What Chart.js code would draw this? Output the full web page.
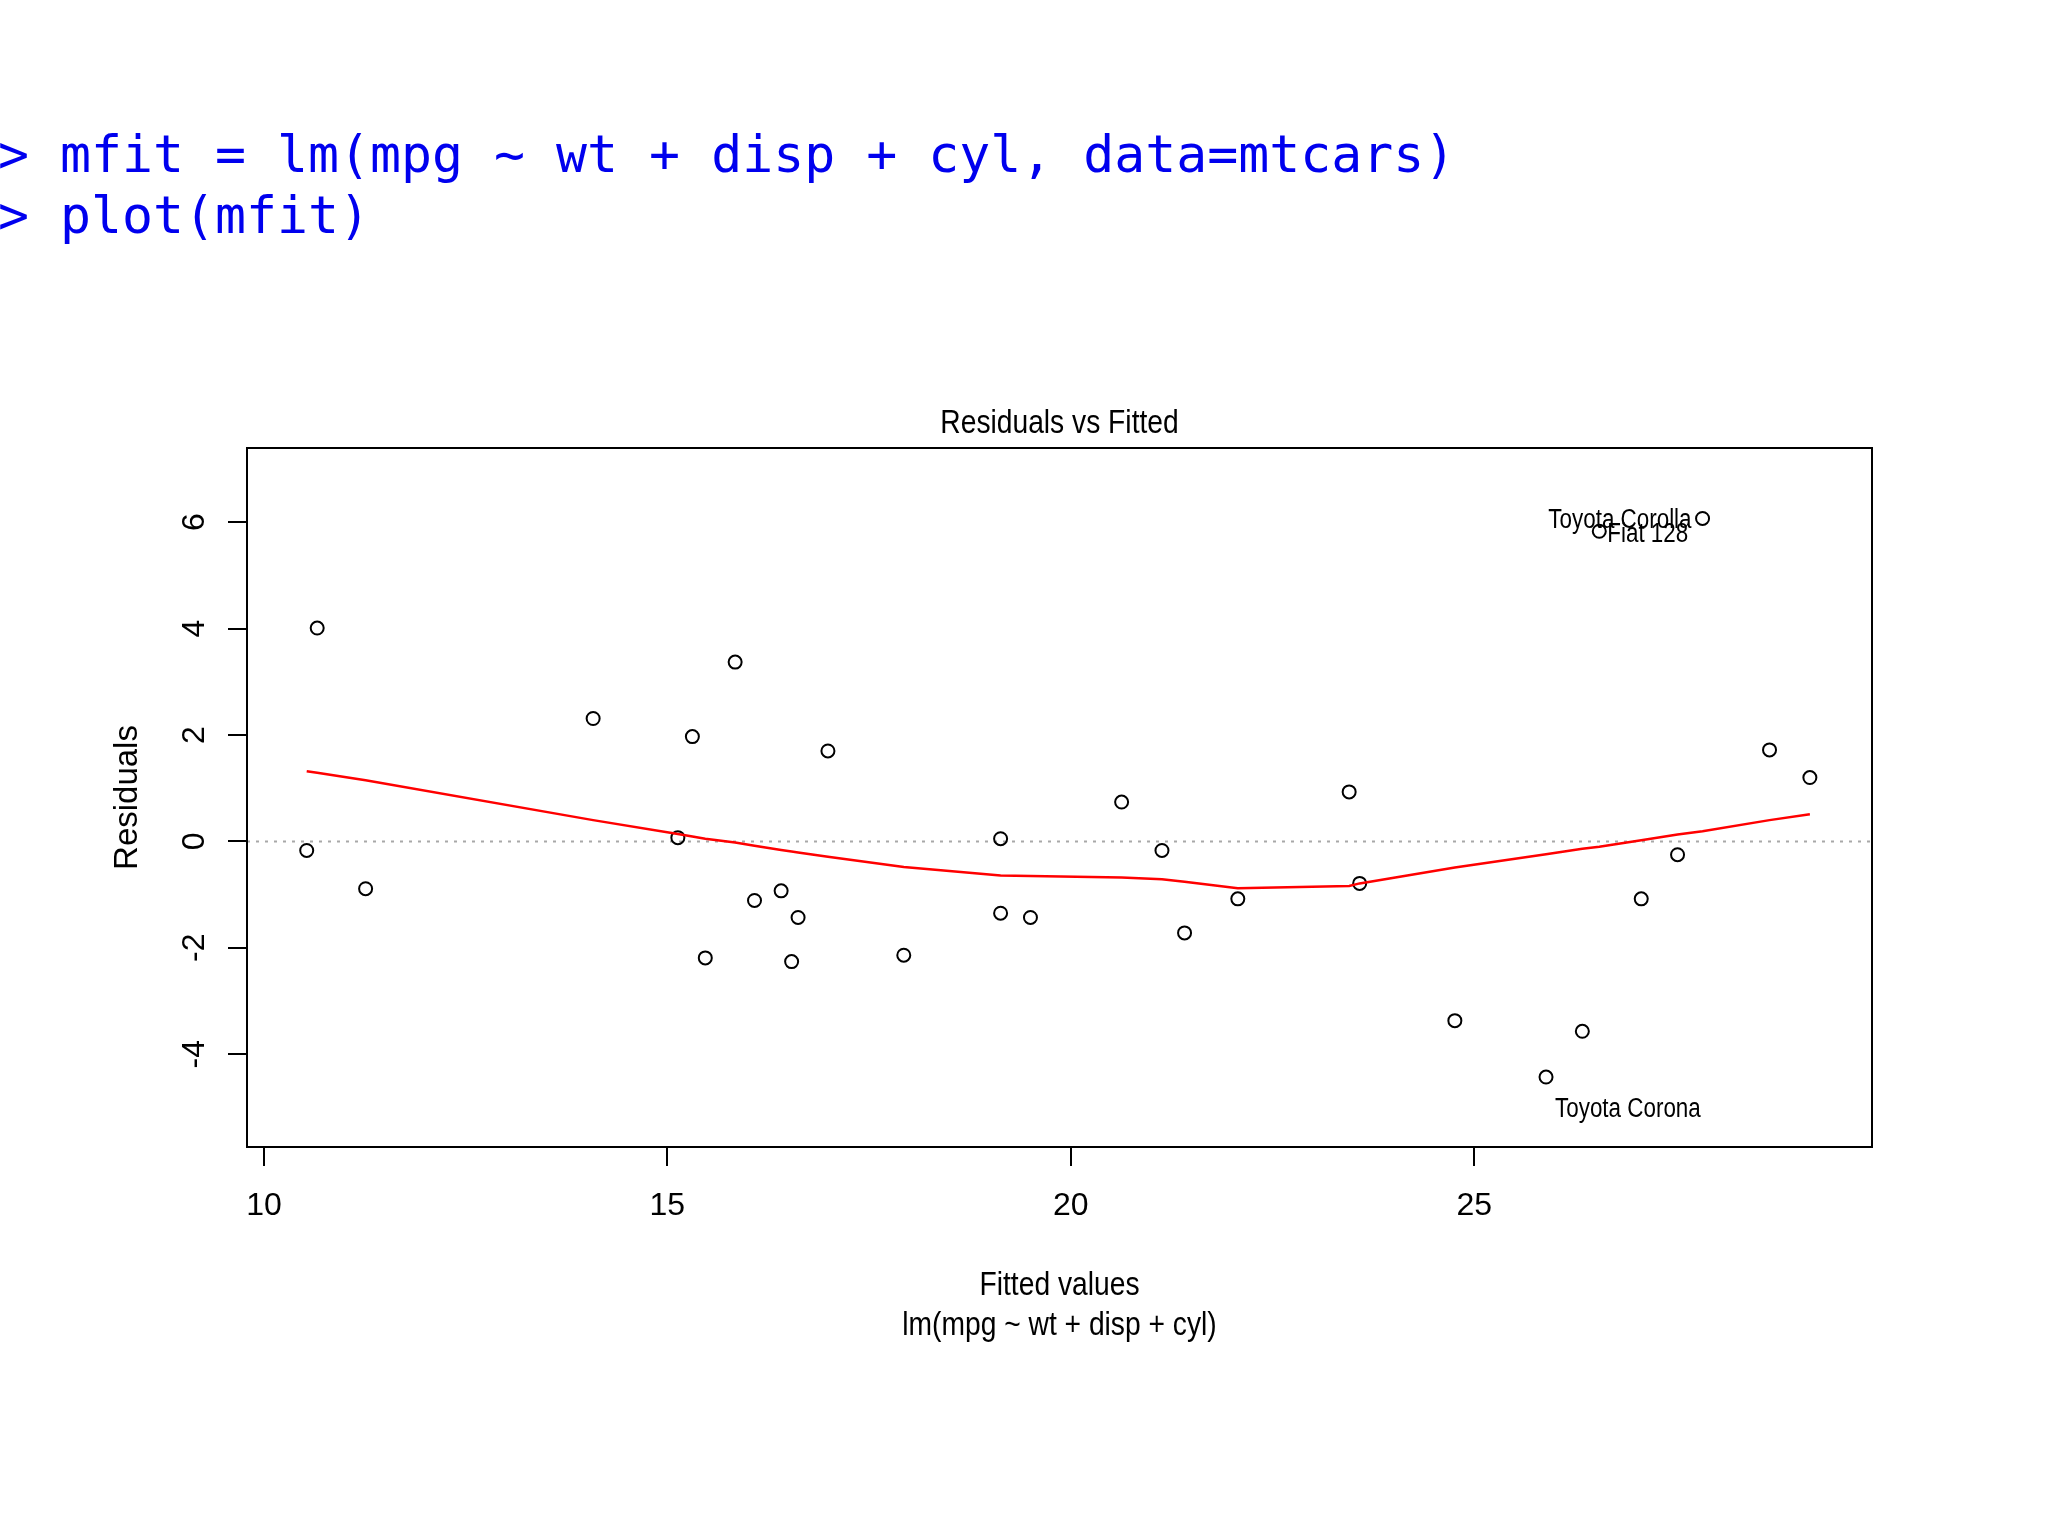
<!DOCTYPE html>
<html>
<head>
  <title>Residuals vs Fitted</title>
  <style>
    body {
      margin: 0;
      background: #ffffff;
      overflow: hidden;
    }
    #code {
      position: absolute;
      left: -2px;
      top: 124px;
      font-family: "DejaVu Sans Mono", monospace;
      font-size: 51.5px;
      line-height: 61px;
      color: #0000ee;
      white-space: pre;
    }
    #chart {
      position: absolute;
      left: 0;
      top: 0;
    }
  </style>
  <script src="https://cdn.jsdelivr.net/npm/chart.js"></script>
</head>
<body>
  <canvas id="chart" width="2048" height="1536"></canvas>
  <div id="code">&gt; mfit = lm(mpg ~ wt + disp + cyl, data=mtcars)
&gt; plot(mfit)</div>

  <script>
    // fitted values (sorted), their residuals and the lowess smooth at each one
    const fitted = [10.53, 10.66, 11.26, 14.08, 15.13, 15.31, 15.47, 15.84, 16.08, 16.41, 16.54, 16.62, 16.99, 17.93, 19.13, 19.13,
                    19.50, 20.63, 21.13, 21.41, 22.07, 23.45, 23.58, 24.76, 25.89, 26.34, 26.55, 27.07, 27.52, 27.83, 28.66, 29.16];
    const residuals = [-0.17, 4.01, -0.89, 2.31, 0.07, 1.97, -2.19, 3.37, -1.11, -0.93, -2.26, -1.43, 1.70, -2.14, 0.05, -1.35,
                       -1.43, 0.74, -0.17, -1.72, -1.08, 0.93, -0.79, -3.37, -4.43, -3.57, 5.83, -1.08, -0.25, 6.07, 1.72, 1.20];
    const smooth = [1.32, 1.29, 1.15, 0.40, 0.14, 0.09, 0.05, -0.02, -0.08, -0.16, -0.19, -0.21, -0.29, -0.48, -0.64, -0.64,
                    -0.65, -0.68, -0.71, -0.76, -0.88, -0.84, -0.79, -0.49, -0.24, -0.14, -0.10, 0.02, 0.13, 0.19, 0.40, 0.51];

    // the three labelled cars (index into the arrays above)
    const idNames = ['Toyota Corolla', 'Fiat 128', 'Toyota Corona'];
    const idIndex = [29, 26, 24];

    const xTicks = [10, 15, 20, 25];
    const yTicks = [-4, -2, 0, 2, 4, 6];
    const xMin = 9.79, xMax = 29.93;
    const yMin = -5.745, yMax = 7.395;

    const FONT = "'Liberation Sans', Arial, sans-serif";
    const SQUEEZE = 0.83; // the original picture is a bit narrow horizontally

    function drawText(ctx, text, x, y, size, align, rotate, squeeze) {
      ctx.save();
      ctx.translate(x, y);
      if (rotate) ctx.rotate(rotate);
      ctx.scale(squeeze, 1);
      ctx.font = size + 'px ' + FONT;
      ctx.fillStyle = '#000';
      ctx.textAlign = align;
      ctx.textBaseline = 'alphabetic';
      ctx.fillText(text, 0, 0);
      ctx.restore();
    }

    const rDecor = {
      id: 'rDecor',
      afterDraw(chart) {
        const ctx = chart.ctx;
        const a = chart.chartArea;
        const xs = chart.scales.x, ys = chart.scales.y;

        // plot box
        ctx.save();
        ctx.strokeStyle = '#000';
        ctx.lineWidth = 2;
        ctx.strokeRect(a.left, a.top, a.right - a.left, a.bottom - a.top);
        ctx.restore();

        const cx = (a.left + a.right) / 2;
        drawText(ctx, 'Residuals vs Fitted', cx, 433, 34, 'center', 0, SQUEEZE);
        drawText(ctx, 'Fitted values', cx, 1295, 34, 'center', 0, SQUEEZE);
        drawText(ctx, 'lm(mpg ~ wt + disp + cyl)', cx, 1335, 34, 'center', 0, SQUEEZE);
        drawText(ctx, 'Residuals', 137, (a.top + a.bottom) / 2, 33, 'center', -Math.PI / 2, 1);

        // id labels next to the extreme points
        idIndex.forEach((k, i) => {
          const px = xs.getPixelForValue(fitted[k]);
          const py = ys.getPixelForValue(residuals[k]);
          ctx.save();
          ctx.font = '27px ' + FONT;
          ctx.fillStyle = '#000';
          ctx.textBaseline = 'middle';
          if (i === 0) {
            ctx.translate(px - 11, py + 2);
            ctx.scale(SQUEEZE, 1);
            ctx.textAlign = 'right';
            ctx.fillText(idNames[i], 0, 0);
          } else if (i === 1) {
            ctx.translate(px + 8, py + 3);
            ctx.scale(SQUEEZE, 1);
            ctx.textAlign = 'left';
            ctx.fillText(idNames[i], 0, 0);
          } else {
            ctx.translate(px + 9, py + 33);
            ctx.scale(SQUEEZE, 1);
            ctx.textAlign = 'left';
            ctx.fillText(idNames[i], 0, 0);
          }
          ctx.restore();
        });
      }
    };

    const points = fitted.map((x, i) => ({ x: x, y: residuals[i] }));
    const smoothLine = fitted.map((x, i) => ({ x: x, y: smooth[i] }));
    const zeroLine = [{ x: xMin, y: 0 }, { x: xMax, y: 0 }];

    new Chart(document.getElementById('chart').getContext('2d'), {
      type: 'scatter',
      data: {
        datasets: [
          {
            type: 'line',
            data: smoothLine,
            borderColor: '#ff0000',
            borderWidth: 2.5,
            pointRadius: 0,
            tension: 0,
            fill: false,
            order: 0,
          },
          {
            data: points,
            pointStyle: 'circle',
            pointRadius: 6.5,
            borderColor: '#000000',
            borderWidth: 2,
            backgroundColor: 'rgba(0, 0, 0, 0)',
            order: 1,
          },
          {
            type: 'line',
            data: zeroLine,
            borderColor: '#a8a8a8',
            borderWidth: 2,
            borderDash: [3, 6],
            pointRadius: 0,
            fill: false,
            order: 2,
          },
        ],
      },
      options: {
        responsive: false,
        animation: false,
        devicePixelRatio: 1,
        events: [],
        layout: { padding: { left: 0, top: 448, right: 176, bottom: 0 } },
        plugins: {
          legend: { display: false },
          tooltip: { enabled: false },
        },
        scales: {
          x: {
            type: 'linear',
            position: 'bottom',
            min: xMin,
            max: xMax,
            afterBuildTicks: (s) => { s.ticks = xTicks.map(v => ({ value: v })); },
            afterFit: (s) => { s.height = 389; },
            border: { display: false },
            grid: { drawOnChartArea: false, drawTicks: true, tickLength: 19, color: '#000', lineWidth: 2 },
            ticks: {
              color: '#000',
              font: { family: FONT, size: 32 },
              padding: 21,
              maxRotation: 0,
              autoSkip: false,
              callback: (v) => String(v),
            },
          },
          y: {
            type: 'linear',
            position: 'left',
            min: yMin,
            max: yMax,
            afterBuildTicks: (s) => { s.ticks = yTicks.map(v => ({ value: v })); },
            afterFit: (s) => { s.width = 247; },
            border: { display: false },
            grid: { drawOnChartArea: false, drawTicks: true, tickLength: 19, color: '#000', lineWidth: 2 },
            ticks: {
              color: '#000',
              font: { family: FONT, size: 32 },
              padding: 19,
              minRotation: 90,
              maxRotation: 90,
              crossAlign: 'center',
              autoSkip: false,
              callback: (v) => String(v),
            },
          },
        },
      },
      plugins: [rDecor],
    });
  </script>
</body>
</html>
